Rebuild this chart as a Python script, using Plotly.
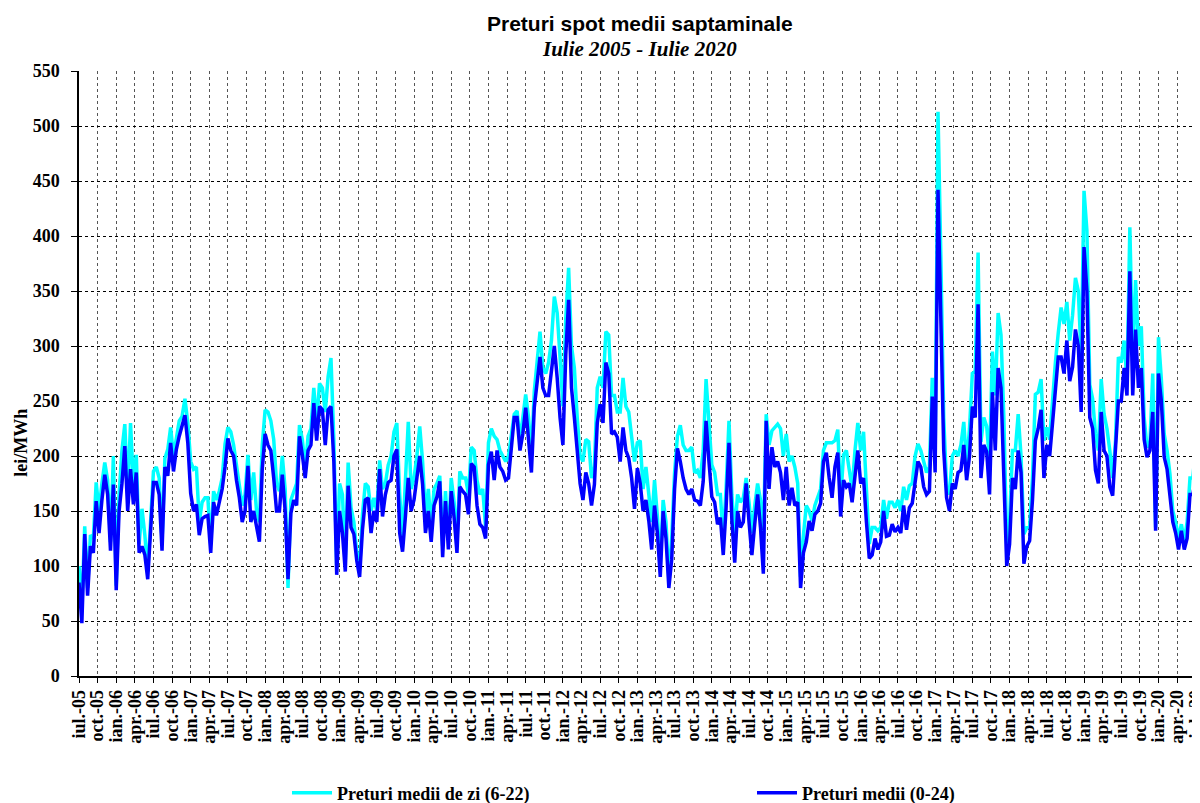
import numpy as np
import plotly.graph_objects as go

# Preturi medii (0-24), lei/MWh - o valoare la 2 saptamani, iul.-05 ... iul.-20
pret_0_24 = [
    85, 48, 129, 73, 118, 112, 159, 130, 160, 183, 165, 114, 174, 78, 150, 175, 209, 150, 188, 156, 185, 112, 118, 110, 88, 130,  # 2005/06
    176, 176, 165, 114, 190, 182, 212, 186, 206, 218, 229, 237, 212, 166, 150, 156, 128, 143, 145, 146, 112, 158, 146, 160, 170, 190,  # 2006/07
    216, 205, 200, 178, 162, 140, 150, 191, 140, 150, 135, 122, 188, 220, 210, 205, 180, 150, 150, 183, 150, 88, 148, 160, 155, 218,  # 2007/08
    201, 180, 205, 210, 248, 214, 245, 242, 210, 242, 245, 195, 92, 150, 130, 95, 173, 135, 129, 105, 90, 133, 160, 162, 130, 150,  # 2008/09
    140, 188, 145, 165, 176, 178, 200, 206, 130, 113, 145, 180, 150, 160, 180, 200, 174, 130, 150, 122, 155, 163, 177, 108, 159, 115,  # 2009/10
    168, 144, 112, 172, 168, 165, 147, 193, 190, 155, 138, 135, 125, 192, 204, 178, 205, 190, 186, 178, 180, 205, 235, 235, 205, 220,  # 2010/11
    244, 215, 185, 244, 268, 290, 262, 255, 255, 280, 300, 271, 235, 210, 292, 342, 262, 235, 205, 175, 160, 185, 175, 155, 174, 230,  # 2011/12
    247, 230, 285, 275, 220, 222, 217, 195, 226, 205, 198, 180, 152, 189, 175, 150, 160, 141, 115, 155, 130, 90, 150, 125, 80, 106,  # 2012/13
    170, 207, 195, 180, 170, 165, 170, 160, 159, 155, 177, 232, 195, 163, 158, 138, 144, 110, 153, 212, 142, 103, 150, 135, 140, 175,  # 2013/14
    140, 110, 138, 165, 135, 93, 232, 170, 208, 190, 195, 185, 160, 190, 155, 171, 155, 158, 80, 112, 122, 141, 132, 147, 150, 157,  # 2014/15
    195, 203, 180, 162, 190, 203, 145, 178, 172, 175, 158, 185, 205, 175, 180, 140, 107, 110, 125, 115, 122, 150, 127, 128, 138, 131,  # 2015/16
    135, 130, 155, 133, 153, 157, 175, 195, 190, 172, 165, 168, 254, 185, 442, 330, 205, 162, 150, 175, 170, 185, 187, 210, 178, 200,  # 2016/17
    245, 235, 338, 180, 210, 204, 165, 258, 205, 280, 262, 180, 100, 120, 180, 170, 205, 185, 102, 118, 123, 160, 214, 225, 242, 180,  # 2017/18
    210, 200, 230, 266, 290, 290, 275, 305, 268, 281, 315, 300, 240, 390, 350, 235, 225, 187, 175, 240, 205, 200, 172, 164, 205, 250,  # 2018/19
    250, 280, 255, 368, 255, 315, 262, 280, 215, 199, 205, 240, 132, 275, 250, 199, 188, 165, 140, 130, 115, 132, 115, 125, 165, 165, 180, 195,  # 2019/20
]

# Preturi medii de zi (6-22), lei/MWh
pret_zi = [
    100, 62, 136, 80, 128, 125, 176, 150, 175, 194, 178, 122, 200, 82, 165, 205, 229, 165, 230, 175, 201, 120, 152, 128, 95, 145,
    186, 190, 180, 122, 198, 206, 226, 200, 218, 232, 236, 252, 230, 195, 188, 190, 140, 158, 162, 162, 120, 168, 160, 168, 180, 211,
    226, 222, 210, 190, 175, 155, 165, 201, 160, 185, 150, 140, 210, 242, 240, 232, 215, 175, 168, 200, 170, 80, 160, 168, 175, 228,
    215, 188, 218, 225, 262, 230, 266, 262, 240, 272, 289, 215, 100, 175, 165, 105, 194, 153, 140, 112, 98, 147, 175, 172, 150, 162,
    150, 196, 170, 175, 192, 200, 222, 230, 165, 125, 175, 231, 170, 180, 200, 227, 195, 145, 170, 135, 170, 175, 182, 118, 168, 125,
    180, 158, 122, 186, 180, 180, 165, 208, 205, 178, 165, 170, 135, 212, 225, 218, 215, 205, 200, 195, 200, 220, 238, 241, 215, 235,
    256, 235, 200, 259, 290, 313, 280, 275, 285, 305, 345, 330, 290, 245, 325, 371, 300, 280, 235, 200, 195, 215, 213, 180, 190, 262,
    272, 262, 313, 310, 255, 255, 240, 240, 271, 245, 240, 220, 195, 212, 214, 170, 190, 165, 140, 178, 145, 100, 160, 140, 88, 125,
    185, 218, 228, 210, 205, 205, 208, 185, 187, 180, 205, 270, 225, 192, 185, 165, 165, 125, 171, 232, 165, 130, 165, 158, 162, 180,
    158, 130, 155, 175, 160, 125, 238, 210, 223, 226, 229, 225, 200, 220, 195, 200, 190, 175, 90, 128, 155, 150, 141, 155, 162, 170,
    205, 212, 212, 212, 214, 224, 160, 201, 205, 185, 170, 205, 230, 205, 222, 170, 120, 135, 135, 132, 135, 160, 143, 158, 158, 153,
    160, 150, 172, 160, 173, 175, 200, 211, 205, 195, 185, 190, 271, 200, 513, 380, 235, 172, 165, 200, 205, 200, 210, 231, 192, 225,
    275, 277, 385, 213, 235, 227, 195, 295, 255, 330, 310, 235, 120, 140, 205, 205, 238, 200, 129, 135, 136, 180, 256, 258, 270, 214,
    226, 215, 256, 285, 312, 335, 320, 340, 305, 328, 362, 350, 290, 441, 405, 265, 252, 220, 205, 270, 238, 225, 205, 180, 214, 290,
    285, 305, 268, 408, 290, 360, 300, 318, 235, 208, 211, 275, 135, 308, 270, 220, 205, 184, 150, 140, 125, 138, 123, 140, 180, 180, 208, 228,
]

# etichete trimestriale pe axa x (6.5 puncte / trimestru)
luni = ['iul.', 'oct.', 'ian.', 'apr.']
etichete_x = [f"{luni[q % 4]}-{(2005 + (q + 2) // 4) % 100:02d}" for q in range(61)]
pozitii_x = [6.5 * q for q in range(61)]

idx = np.arange(len(pret_0_24))

FONT = 'Liberation Serif'
leg_font = dict(family=FONT, size=18, color='black', weight='bold')

# pagina html are margine de 8px -> figura 1192x795
W, H = 1192, 795

fig = go.Figure()
fig.add_trace(go.Scatter(x=idx, y=pret_zi, mode='lines', name='Preturi medii de zi (6-22)',
                         line=dict(color='#00FFFF', width=3.5), legend='legend'))
fig.add_trace(go.Scatter(x=idx, y=pret_0_24, mode='lines', name='Preturi medii (0-24)',
                         line=dict(color='#0000FF', width=3.5), legend='legend2'))

fig.update_layout(
    width=W, height=H,
    paper_bgcolor='white', plot_bgcolor='white',
    margin=dict(l=71, r=0, t=63, b=127, autoexpand=False),
    showlegend=True,
    legend=dict(xref='container', yref='container', x=279 / W, y=10 / H,
                xanchor='left', yanchor='middle', font=leg_font, itemwidth=40,
                bgcolor='rgba(0,0,0,0)'),
    legend2=dict(xref='container', yref='container', x=744 / W, y=10 / H,
                 xanchor='left', yanchor='middle', font=leg_font, itemwidth=40,
                 bgcolor='rgba(0,0,0,0)'),
    annotations=[
        dict(text='Preturi spot medii saptaminale', xref='paper', yref='paper', x=0.5, y=1.078,
             xanchor='center', yanchor='middle', showarrow=False,
             font=dict(family='Liberation Sans', size=21, color='black', weight='bold')),
        dict(text='<i>Iulie 2005 - Iulie 2020</i>', xref='paper', yref='paper', x=0.5, y=1.036,
             xanchor='center', yanchor='middle', showarrow=False,
             font=dict(family=FONT, size=21, color='black', weight='bold')),
        dict(text='lei/MWh', xref='paper', yref='paper', x=-0.052, y=0.385, textangle=-90,
             xanchor='center', yanchor='middle', showarrow=False,
             font=dict(family=FONT, size=18, color='black', weight='bold')),
    ],
)

fig.update_xaxes(range=[0, 391.5], tickmode='array', tickvals=pozitii_x, ticktext=etichete_x,
                 tickangle=-90, tickfont=dict(family=FONT, size=18, color='black', weight='bold'),
                 ticklabeloverflow='allow',
                 showgrid=True, gridcolor='#555555', griddash='dot', gridwidth=1,
                 showline=True, linecolor='black', linewidth=1.5, automargin=False,
                 ticks='outside', ticklen=5, tickcolor='black', zeroline=False)
fig.update_yaxes(range=[0, 550], tick0=0, dtick=50,
                 tickfont=dict(family=FONT, size=18, color='black', weight='bold'),
                 showgrid=True, gridcolor='black', griddash='dot', gridwidth=1,
                 showline=True, linecolor='black', linewidth=1.5, automargin=False,
                 ticks='outside', ticklen=6, tickcolor='black', zeroline=False,
                 ticklabelstandoff=8)

fig.write_html("out.html")
